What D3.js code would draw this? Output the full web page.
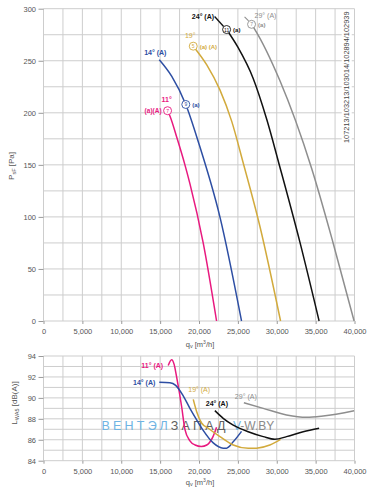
<!DOCTYPE html>
<html><head><meta charset="utf-8">
<script src="https://cdn.jsdelivr.net/npm/d3@7"></script>
<style>
body{margin:0;background:#fff}
svg{display:block}
text{font-family:"Liberation Sans",Arial,Helvetica,sans-serif}
</style>
</head><body>
<svg id="c" width="379" height="488"></svg>
<script>
// ---------- data ----------
const qTicks = [0,5000,10000,15000,20000,25000,30000,35000,40000];
const pTicks = [0,50,100,150,200,250,300];
const lTicks = [84,86,88,90,92,94];
const angles = ["11°","14°","19°","24°","29°"];
const colors = ["#e8197f","#2d4ea3","#d2aa3c","#111111","#8e8e8e"];
const docNumber = "107213/103213/103014/102894/102939";

// static pressure curves [q m3/h, Psf Pa]
const psf11 = [[15960,202],[16260,197],[17200,175],[18190,150],[18830,132],[20540,75],[22260,0]];
const psf14 = [[14890,251],[16500,235],[18300,208],[20000,170],[22690,100],[25470,0]];
const psf19 = [[19260,264],[21000,246],[22690,222],[24200,192],[25680,152],[27830,91],[30490,0]];
const psf24 = [[23550,280],[25000,263],[26970,233],[28700,194],[30400,148],[32970,76],[35450,0]];
const psf29 = [[26760,285],[27190,280],[30400,231],[34470,147],[37250,75],[39950,0]];
// marker points on the pressure curves (a)
const markerPts = [[15960,202],[18300,208],[19260,264],[23550,280],[26760,285]];
const markerNums = ["7","9","5","11","7"];

// sound power curves [q m3/h, LWA dB(A)]
const lwa11 = [[16040,93.1],[16480,93.65],[16800,93.2],[17120,92.0],[17760,89.2],[18190,87.0],[18830,85.9],[19500,85.5],[20300,85.35],[21000,85.5],[21800,86.3],[22260,87.2]];
const lwa14 = [[14890,91.5],[16260,91.45],[17000,91.2],[17970,90.2],[18830,89.0],[19700,87.9],[20540,86.9],[21830,85.7],[23110,85.2],[23550,85.2],[24400,85.8],[25470,86.8]];
const lwa19 = [[19260,89.86],[19690,88.7],[20330,87.6],[21190,87.1],[22690,86.3],[24400,85.5],[26330,85.18],[27400,85.2],[29110,85.5],[30490,86.04]];
const lwa24 = [[22040,88.78],[23110,88.05],[24400,87.4],[26330,86.77],[28260,86.3],[29760,86.04],[31260,86.3],[33400,86.77],[35450,87.1]];
const lwa29 = [[25770,89.54],[28260,89.0],[31260,88.37],[33830,88.14],[35970,88.27],[39950,88.78]];

const psfSeries = [psf11,psf14,psf19,psf24,psf29];
const lwaSeries = [lwa11,lwa14,lwa19,lwa24,lwa29];

// ---------- chart ----------
const svg = d3.select("#c");
const font = "'Liberation Sans',Arial,sans-serif";
const x = d3.scaleLinear().domain([0,40000]).range([43.5,354.5]);
const yP = d3.scaleLinear().domain([0,300]).range([321,8.7]);
const yL = d3.scaleLinear().domain([84,94]).range([460.7,356]);
const gridCol = "#cdcdcd";

function drawGrid(y, yStep, yDomain){
  const g = svg.append("g");
  const ys = d3.range(yDomain[0], yDomain[1]+1e-9, yStep);
  g.selectAll(".h").data(ys).join("line")
    .attr("x1",x(0)).attr("x2",x(40000))
    .attr("y1",d=>y(d)).attr("y2",d=>y(d))
    .attr("stroke",gridCol).attr("stroke-width",1);
  const xs = d3.range(0,40001,2500);
  g.selectAll(".v").data(xs).join("line")
    .attr("x1",d=>x(d)).attr("x2",d=>x(d))
    .attr("y1",y(yDomain[0])).attr("y2",y(yDomain[1]))
    .attr("stroke",gridCol).attr("stroke-width",1);
}
function styleAxis(g){
  g.select(".domain").remove();
  g.selectAll(".tick line").attr("stroke","#9a9a9a");
  g.selectAll(".tick text").attr("fill","#555").attr("font-size","7.5px").attr("font-family",font);
}
function drawAxes(y, yTicks, yFmt){
  const gx = svg.append("g").attr("transform",`translate(0,${y.range()[0]})`)
    .call(d3.axisBottom(x).tickValues(qTicks).tickSize(3).tickPadding(5).tickFormat(d3.format(",")));
  styleAxis(gx);
  const gy = svg.append("g").attr("transform",`translate(${x(0)},0)`)
    .call(d3.axisLeft(y).tickValues(yTicks).tickSize(5).tickPadding(2.5).tickFormat(yFmt));
  styleAxis(gy);
}
function axisTitleQ(yPos){
  const t = svg.append("text").attr("x",200).attr("y",yPos).attr("text-anchor","middle")
    .attr("font-size","7.5px").attr("fill","#555");
  t.append("tspan").text("q");
  t.append("tspan").attr("font-size","5.5px").attr("dy",1.5).text("v");
  t.append("tspan").attr("dy",-1.5).text(" [m");
  t.append("tspan").attr("font-size","5px").attr("dy",-3).text("3");
  t.append("tspan").attr("dy",3).text("/h]");
}
function yTitle(cx, cy, main, sub, rest){
  const t = svg.append("text").attr("transform",`translate(${cx},${cy}) rotate(-90)`)
    .attr("text-anchor","middle").attr("font-size","8px").attr("fill","#555");
  t.append("tspan").text(main);
  t.append("tspan").attr("font-size","5.5px").attr("dy",2).text(sub);
  t.append("tspan").attr("dy",-2).text(rest);
}

// ---- top chart ----
drawGrid(yP, 25, [0,300]);
drawAxes(yP, pTicks, d3.format("d"));
axisTitleQ(346.5);
yTitle(14, 166, "P", "sF", " [Pa]");

// document number (rotated, right side inside plot)
svg.append("rect").attr("x",x(39000)-5).attr("y",12).attr("width",10).attr("height",131).attr("fill","#fff");
svg.append("text").attr("transform",`translate(${x(39000)+2.5},${yP(171)}) rotate(-90)`)
  .attr("font-size","7.4px").attr("fill","#444").text(docNumber);

const lineTop = d3.line().x(d=>x(d[0])).y(d=>yP(d[1])).curve(d3.curveMonotoneX);
svg.append("g").selectAll("path").data(psfSeries).join("path")
  .attr("d",lineTop).attr("fill","none")
  .attr("stroke",(d,i)=>colors[i]).attr("stroke-width",1.5);

// leader lines for 24° and 29°
const m24 = [x(markerPts[3][0]), yP(markerPts[3][1])];
svg.append("line").attr("x1",m24[0]-12).attr("y1",m24[1]-13).attr("x2",m24[0]-3).attr("y2",m24[1]-3)
  .attr("stroke",colors[3]).attr("stroke-width",1.3);
const m29 = [x(markerPts[4][0]), yP(markerPts[4][1])];
svg.append("line").attr("x1",m29[0]-7).attr("y1",m29[1]-7.5).attr("x2",m29[0]-3).attr("y2",m29[1]-3.5)
  .attr("stroke",colors[4]).attr("stroke-width",1.1);

// markers
const mk = svg.append("g").selectAll("g").data(markerPts).join("g")
  .attr("transform",d=>`translate(${x(d[0])},${yP(d[1])})`);
mk.append("circle").attr("r",4).attr("fill","#fff").attr("stroke",(d,i)=>colors[i]).attr("stroke-width",0.9);
mk.append("text").attr("text-anchor","middle").attr("y",2).attr("font-size","5px")
  .attr("fill",(d,i)=>colors[i]).text((d,i)=>markerNums[i]);
mk.append("text").attr("x",6.5).attr("y",2.6).attr("font-size","6px").attr("font-weight","bold")
  .attr("fill",(d,i)=>colors[i]).text((d,i)=> i===0 ? "" : (i===2 ? "(a) (A)" : "(a)"));

function lbl(px,py,txt,i,anchor,bold,size){
  svg.append("text").attr("x",px).attr("y",py).attr("text-anchor",anchor||"start")
    .attr("font-size",(size||7)+"px").attr("font-weight",bold?"bold":"normal")
    .attr("fill",colors[i]).text(txt);
}
// top labels
const mp = markerPts.map(d=>[x(d[0]),yP(d[1])]);
lbl(mp[0][0]-1, mp[0][1]-9, angles[0], 0, "middle", true);
lbl(mp[0][0]-6, mp[0][1]+2.6, "(a)(A)", 0, "end", true, 6.5);
lbl(x(psf14[0][0])-4, yP(psf14[0][1])-4.5, angles[1]+" (A)", 1, "middle", true);
lbl(mp[2][0]-3, mp[2][1]-8.5, angles[2], 2, "middle", false);
lbl(m24[0]-12.5, m24[1]-10.5, angles[3]+" (A)", 3, "end", true);
lbl(m29[0]+3, m29[1]-6, angles[4]+" (A)", 4, "start", false);

// ---- bottom chart ----
drawGrid(yL, 1, [84,94]);
drawAxes(yL, lTicks, d3.format("d"));
axisTitleQ(484.5);
yTitle(17, 403, "L", "WA5", " [dB(A)]");

// watermark
const wm = svg.append("text").attr("x",101.5).attr("y",429.5).attr("font-size","12.5px").attr("letter-spacing","3.2px");
wm.append("tspan").attr("fill","#6fb4e3").text("ВЕНТЭЛ");
wm.append("tspan").attr("fill","#5e5e5e").text("ЗАПАД");
const wm2 = svg.append("text").attr("x",233).attr("y",429.5).attr("font-size","12px");
wm2.append("tspan").attr("fill","#6fb4e3").text("V");
wm2.append("tspan").attr("fill","#8a8a8a").text("-W.BY");

const lineBot = d3.line().x(d=>x(d[0])).y(d=>yL(d[1])).curve(d3.curveMonotoneX);
svg.append("g").selectAll("path").data(lwaSeries).join("path")
  .attr("d",lineBot).attr("fill","none")
  .attr("stroke",(d,i)=>colors[i]).attr("stroke-width",1.5);

const f = lwaSeries.map(s=>[x(s[0][0]), yL(s[0][1])]);
lbl(f[0][0]-5, f[0][1]+3, angles[0]+" (A)", 0, "end", true);
lbl(f[1][0]-4, f[1][1]+3, angles[1]+" (A)", 1, "end", true);
lbl(f[2][0]-5, f[2][1]-7, angles[2]+" (A)", 2, "start", false);
lbl(f[3][0]+2, f[3][1]-5, angles[3]+" (A)", 3, "middle", true);
lbl(f[4][0]-9, f[4][1]-4, angles[4]+" (A)", 4, "start", false);
</script>
</body></html>
